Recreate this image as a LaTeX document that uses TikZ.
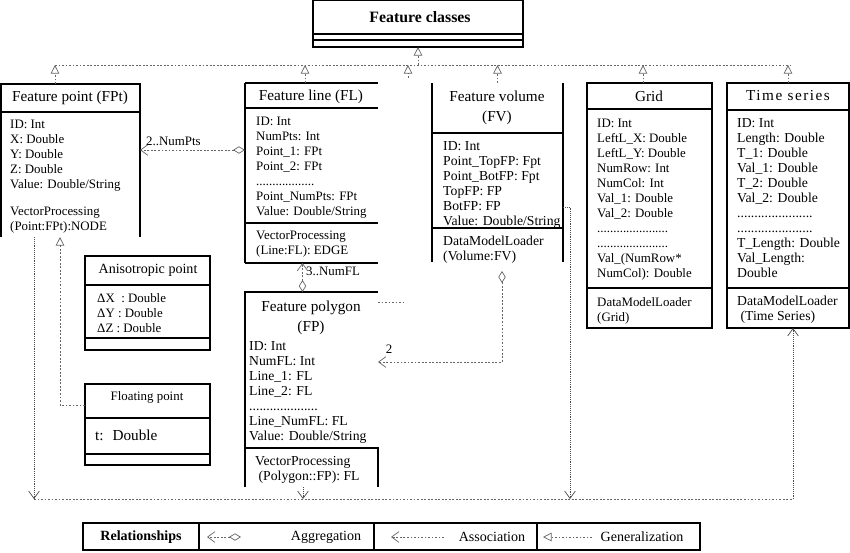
\documentclass[tikz,border=0pt]{standalone}
\usepackage{fontspec}
\setmainfont{Liberation Serif}
\usetikzlibrary{arrows.meta,fit}

\tikzset{
  cls/.style={inner sep=0pt,outer sep=0pt},
  frame/.style={line width=0.9pt},
  heavy/.style={line width=1.6pt},
  ctitle/.style={inner sep=0pt,align=center,font=\fontsize{13}{17}\selectfont},
  attr/.style={anchor=north west,inner sep=0pt,align=left,font=\fontsize{11}{12.8}\selectfont},
  attrL/.style={attr,font=\fontsize{11.7}{12.8}\selectfont},
  lbl/.style={inner sep=0pt,font=\fontsize{11}{13}\selectfont},
  leg/.style={inner sep=0pt,font=\fontsize{12}{14}\selectfont},
  link/.style={draw=black!60,line width=0.6pt,dash pattern=on 1.6pt off 1.4pt},
  gen/.style={link,-{Triangle[open,length=2.6mm,width=2.6mm]}},
  agg/.style={link,{Diamond[open,length=3.6mm,width=2.2mm]}-{Straight Barb[length=2.2mm,width=3.2mm]}},
  flow/.style={draw=black!70,line width=0.6pt,densely dotted,-{Straight Barb[length=2.2mm,width=3.2mm]}},
}

\begin{document}
\begin{tikzpicture}[x=0.03cm,y=-0.03cm]
\useasboundingbox (0,0) rectangle (850,552);

% root class
\node[cls,draw,frame,fit={(313,0) (523,47)}] (fc) {};
\draw[frame] (313,34) -- (523,34) (313,40) -- (523,40);
\node[font=\fontsize{13.5}{16}\selectfont\bfseries] at (420,17) {Feature classes};

% Feature point
\node[cls,fit={(1,84) (140,237)}] (fpt) {};
\draw[frame] (fpt.south west) |- (fpt.north east) -- (fpt.south east);
\draw[frame] (1,112) -- (140,112);
\node[ctitle] at (70,98) {Feature point (FPt)};
\node[attr] at (10,119.5) {ID: Int\\X: Double\\Y: Double\\Z: Double\\Value: Double/String};
\node[attr] at (10,206.5) {VectorProcessing\\(Point:FPt):NODE};

% Feature line
\node[cls,fit={(245,83) (378,263)}] (fl) {};
\draw[heavy] (fl.north west) -- (fl.north east) (fl.south west) -- (fl.south east);
\draw[frame] (fl.north west) -- (fl.south west);
\draw[frame] (245,108) -- (378,108) (245,223) -- (378,223);
\node[ctitle] at (311,97) {Feature line (FL)};
\node[attr] at (256,116.5) {ID: Int\\NumPts: Int\\Point\_1: FPt\\Point\_2: FPt\\..................\\Point\_NumPts: FPt\\Value: Double/String};
\node[attr] at (256,230.5) {VectorProcessing\\(Line:FL): EDGE};

% Feature volume
\node[cls,fit={(432,83) (563,262)}] (fv) {};
\draw[frame] (fv.north west) -- (fv.south west) (fv.north east) -- (fv.south east);
\draw[frame] (432,133) -- (563,133) (432,228) -- (563,228);
\node[ctitle] at (497,107.5) {Feature volume\\(FV)};
\node[attrL] at (443,141.5) {ID: Int\\Point\_TopFP: Fpt\\Point\_BotFP: Fpt\\TopFP: FP\\BotFP: FP\\Value: Double/String};
\node[attrL] at (443,235.5) {DataModelLoader\\(Volume:FV)};

% Grid
\node[cls,draw,frame,fit={(587,83) (712,328)}] (grid) {};
\draw[frame] (587,109) -- (712,109) (587,288) -- (712,288);
\node[ctitle] at (649,96) {Grid};
\node[attr] at (597,118.5) {ID: Int\\LeftL\_X: Double\\LeftL\_Y: Double\\NumRow: Int\\NumCol: Int\\Val\_1: Double\\Val\_2: Double\\......................\\......................\\Val\_(NumRow*\\NumCol): Double};
\node[attr] at (597,297.5) {DataModelLoader\\(Grid)};

% Time series
\node[cls,draw,frame,fit={(727,83) (849,328)}] (ts) {};
\draw[frame] (727,110) -- (849,110) (727,288) -- (849,288);
\node[ctitle] at (788,96) {\addfontfeature{LetterSpace=10}Time series};
\node[attrL] at (737,118.5) {ID: Int\\Length: Double\\T\_1: Double\\Val\_1: Double\\T\_2: Double\\Val\_2: Double\\......................\\......................\\T\_Length: Double\\Val\_Length:\\Double};
\node[attrL] at (737,295.5) {DataModelLoader\\\ (Time Series)};

% Anisotropic point
\node[cls,draw,frame,fit={(85,256) (210,350)}] (aniso) {};
\draw[frame] (85,285) -- (210,285) (85,338) -- (210,338);
\node[ctitle,font=\fontsize{12}{14}\selectfont] at (148,270) {Anisotropic point};
\node[attr] at (97,293.5) {ΔX~ : Double\\ΔY : Double\\ΔZ : Double};

% Floating point
\node[cls,draw,frame,fit={(85,384) (210,465)}] (floatpt) {};
\draw[frame] (85,418) -- (210,418) (85,454) -- (210,454);
\node[ctitle,font=\fontsize{11}{13}\selectfont] at (147,397) {Floating point};
\node[attr,anchor=west,font=\fontsize{13}{15}\selectfont] at (95,435) {t:~ Double};

% Feature polygon
\node[cls,fit={(245,292) (378,487)}] (fp) {};
\draw[frame] (fp.south west) |- (fp.north east);
\draw[frame] (fp.east |- 0,448) -- (fp.south east);
\draw[heavy] (245,448) -- (379,448);
\node[ctitle] at (311,317.5) {Feature polygon\\(FP)};
\node[attrL] at (249,341.5) {ID: Int\\NumFL: Int\\Line\_1: FL\\Line\_2: FL\\....................\\Line\_NumFL: FL\\Value: Double/String};
\node[attrL] at (255,456.5) {VectorProcessing\\\ (Polygon::FP): FL};

% generalization tree
\coordinate (gbus) at (418,65);
\draw[link] (55,65) -- (790,65);
\draw[gen] (gbus) -- (fc.south);
\draw[gen] ([xshift=-4.65mm]fpt.north) -- ++(0,-19);
\draw[gen] ([xshift=-1.95mm]fl.north) -- ++(0,-18);
\draw[gen] (fv.north) -- ++(0,-18);
\draw[gen] ([xshift=-1.95mm]grid.north) -- ++(0,-18);
\draw[gen] (ts.north) -- ++(0,-18);
\coordinate (fpup) at (408,78);
\draw[gen] (fpup) -- (fpup |- gbus);
\draw[link] (fp.east |- 0,302) -- (405,302);
\draw[gen] (floatpt.west |- 0,405) -| (fpt.south -| 60,0);

% aggregations
\draw[agg] (fl.west |- 0,150) -- (fpt.east |- 0,150);
\node[lbl,anchor=west] at (146,141) {2..NumPts};
\draw[agg] ([xshift=-2.7mm]fp.north) -- ([xshift=-2.7mm]fl.south);
\node[lbl,anchor=west] at (306,271) {3..NumFL};
\draw[agg] ([xshift=1.35mm,yshift=-2.7mm]fv.south) |- (fp.east |- 0,362);
\node[lbl] at (389,349) {2};

% lower bus
\coordinate (busL) at (34,499);
\coordinate (busR) at (793,499);
\coordinate (fvdrop) at (570,499);
\draw[link] (busL) -- (busR);
\draw[flow] (fpt.south -| busL) -- (busL);
\draw[flow] ([xshift=-2.55mm]fp.south) -- ++(0,12);
\draw[flow] (fv.east |- 0,207) -| (fvdrop);
\draw[flow] (busR) -- (busR |- ts.south);

% legend
\node[cls,draw,frame,fit={(83,523) (700,550)}] (legend) {};
\draw[frame] (199,523) -- (199,550) (374,523) -- (374,550) (537,523) -- (537,550);
\node[font=\fontsize{12}{14}\selectfont\bfseries] at (141,537) {Relationships};
\coordinate (aggA) at (241,537);
\coordinate (aggB) at (207,537);
\draw[agg] (aggA) -- (aggB);
\node[leg] at (326,537) {Aggregation};
\coordinate (assA) at (444,537);
\coordinate (assB) at (391,537);
\draw[link,-{Straight Barb[length=2.2mm,width=3.2mm]}] (assA) -- (assB);
\node[leg] at (492,537) {Association};
\coordinate (genA) at (592,537);
\coordinate (genB) at (543,537);
\draw[gen] (genA) -- (genB);
\node[leg] at (642,537) {Generalization};
\end{tikzpicture}
\end{document}
